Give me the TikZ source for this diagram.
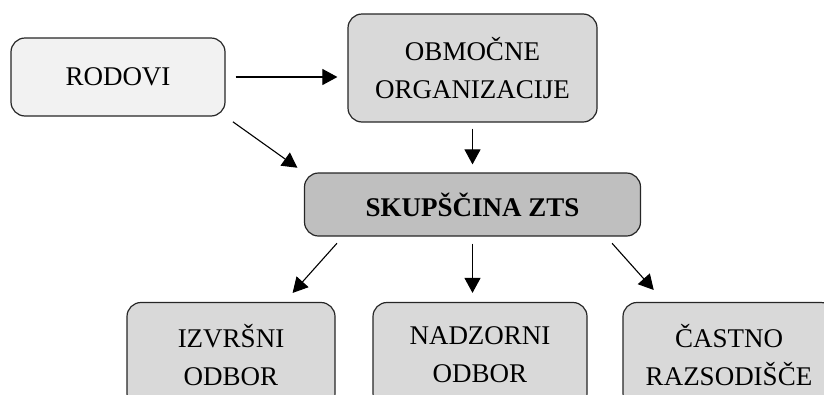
\documentclass[tikz,border=0pt]{standalone}
\usepackage{fontspec}
\setmainfont{Liberation Serif}
\usetikzlibrary{arrows.meta}
\definecolor{boxlight}{HTML}{F2F2F2}
\definecolor{boxmid}{HTML}{D9D9D9}
\definecolor{boxdark}{HTML}{BFBFBF}
\tikzset{
%Define standard arrow tip
>={Triangle[length=15pt,width=16pt]},
%Define style for the boxes
unit/.style={draw=black!85, line width=1.2pt, rounded corners=14pt, align=center,
  inner sep=0pt, font=\fontsize{27}{38}\selectfont},
%Define style for the connections
link/.style={->, line width=1.1pt},
}
\begin{document}
\begin{tikzpicture}[x=1pt, y=-1pt]

% white background, cut at the page border
\useasboundingbox (0,0) rectangle (824,394);
\clip (0,0) rectangle (824,394);

% top row
\node[unit, fill=boxlight, minimum width=214pt, minimum height=78pt] (rodovi) at (118,77) {RODOVI};
\node[unit, fill=boxmid, minimum width=249pt, minimum height=108pt] (obmocne) at (472.5,68) {OBMOČNE\\ORGANIZACIJE};

% assembly
\node[unit, fill=boxdark, minimum width=336pt, minimum height=63pt, font=\fontsize{27}{38}\selectfont\bfseries] (skupscina) at (472.5,204.5) {SKUPŠČINA ZTS};

% bottom row
\node[unit, fill=boxmid, minimum width=208pt, minimum height=105pt] (izvrsni) at (231,355) {IZVRŠNI\\ODBOR};
\node[unit, fill=boxmid, minimum width=214pt, minimum height=105pt] (nadzorni) at (480,355) {NADZORNI\\ODBOR};
\node[unit, fill=boxmid, minimum width=212pt, minimum height=105pt] (castno) at (729,355) {ČASTNO\\RAZSODIŠČE};

% arrows into the assembly
\draw[link, shorten <=10pt, shorten >=10pt] (rodovi.east) -- (rodovi.east -| obmocne.west);
\draw[link, shorten <=9pt, shorten >=8pt] (rodovi.south east) -- (skupscina.north west);
\draw[link, shorten <=6pt, shorten >=8pt] (obmocne.south) -- (obmocne.south |- skupscina.north);

% arrows out of the assembly
\draw[link, shorten <=9pt, shorten >=12pt] ([xshift=39pt]skupscina.south west) -- ([xshift=-51pt]izvrsni.north east);
\draw[link, shorten <=7pt, shorten >=9pt] (skupscina.south) -- (skupscina.south |- nadzorni.north);
\draw[link, shorten <=9pt, shorten >=16pt] ([xshift=-35pt]skupscina.south east) -- ([xshift=42pt]castno.north west);

\end{tikzpicture}
\end{document}
